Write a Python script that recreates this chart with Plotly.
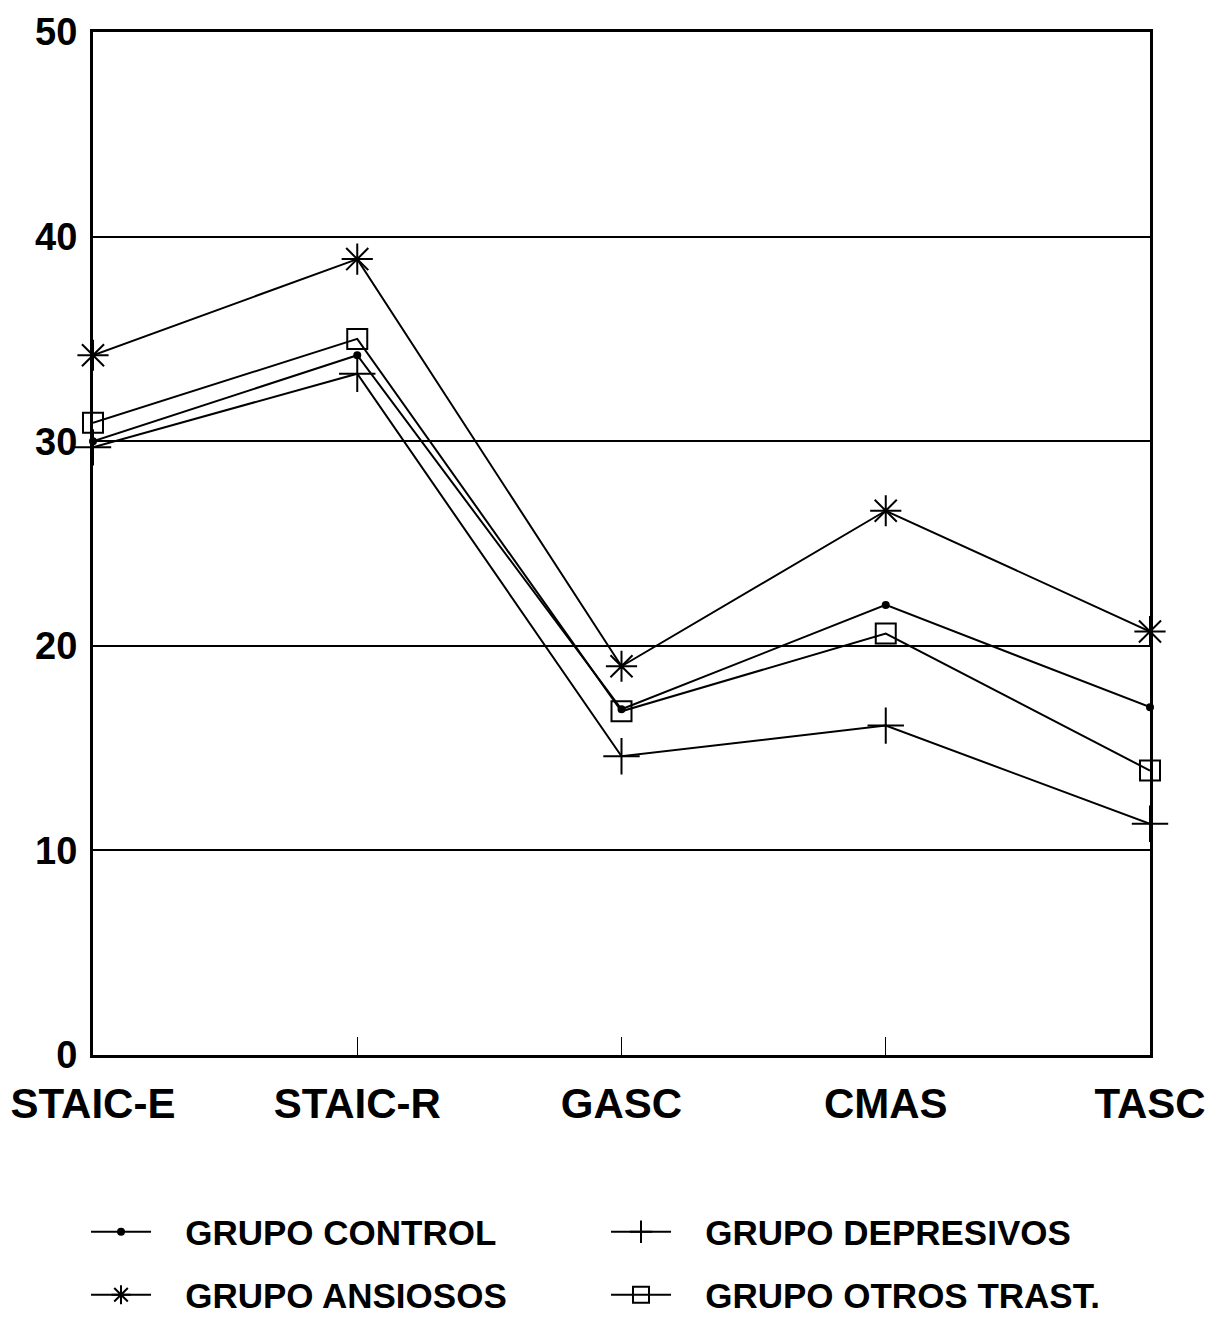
import plotly.graph_objects as go

escalas = ['STAIC-E', 'STAIC-R', 'GASC', 'CMAS', 'TASC']

grupo_control = [30.0, 34.2, 16.9, 22.0, 17.0]
grupo_depresivos = [29.7, 33.3, 14.6, 16.1, 11.3]
grupo_ansiosos = [34.2, 38.9, 19.0, 26.6, 20.7]
grupo_otros = [30.9, 35.0, 16.8, 20.6, 13.9]

y_ticks = [0, 10, 20, 30, 40, 50]

FONT = 'Liberation Sans'
GAP = '\u00a0\u00a0\u00a0'  # space between legend symbol and text

def serie(nombre, valores, simbolo, tam, leyenda):
    return go.Scatter(
        x=list(range(len(escalas))), y=valores, name=GAP + nombre,
        mode='lines+markers', cliponaxis=False, legend=leyenda,
        line=dict(color='black', width=2),
        marker=dict(symbol=simbolo, size=tam, color='black',
                    line=dict(color='black', width=2)),
    )

fig = go.Figure([
    serie('GRUPO CONTROL', grupo_control, 'circle', 6, 'legend'),
    serie('GRUPO DEPRESIVOS', grupo_depresivos, 'cross-thin-open', 26, 'legend'),
    serie('GRUPO ANSIOSOS', grupo_ansiosos, 'asterisk-open', 26, 'legend2'),
    serie('GRUPO OTROS TRAST.', grupo_otros, 'square-open', 20, 'legend2'),
])

leg = dict(
    orientation='h', x=-0.0066, xanchor='left', yanchor='middle',
    entrywidth=445, entrywidthmode='pixels',
    font=dict(family=FONT, size=35, color='black', weight='bold'),
    itemwidth=60, traceorder='normal', bgcolor='rgba(0,0,0,0)',
)

plot_h = 1318 - 24 - 271
fig.update_layout(
    width=1215, height=1318,
    margin=dict(l=85, r=73, t=24, b=271, autoexpand=False),
    paper_bgcolor='white', plot_bgcolor='white',
    font=dict(family=FONT, color='black'),
    legend=dict(leg, y=-177 / plot_h),
    legend2=dict(leg, y=-240 / plot_h),
)

fig.update_xaxes(
    range=[0, 4], tickvals=list(range(len(escalas))), ticktext=escalas,
    showgrid=False, zeroline=False,
    showline=True, linecolor='black', linewidth=3, mirror=True,
    ticks='inside', ticklen=18, tickcolor='black', tickwidth=1,
    ticklabelstandoff=10, ticklabeloverflow='allow',
    tickfont=dict(family=FONT, size=42, color='black', weight='bold'),
)
fig.update_yaxes(
    range=[0, 50], tickvals=y_ticks,
    showgrid=True, gridcolor='black', gridwidth=2, zeroline=False,
    showline=True, linecolor='black', linewidth=3, mirror=True,
    ticks='', ticklabelstandoff=5, ticklabeloverflow='allow',
    tickfont=dict(family=FONT, size=38, color='black', weight='bold'),
)

fig.write_html('out.html')
